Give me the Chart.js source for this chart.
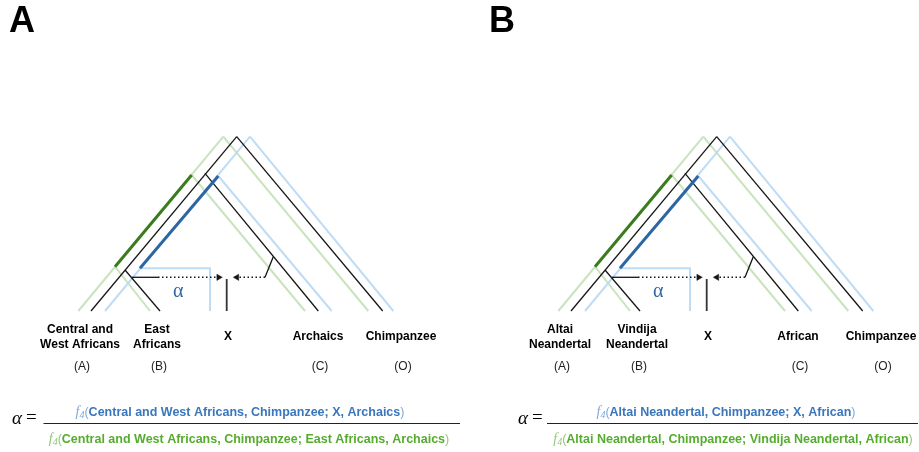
<!DOCTYPE html>
<html>
<head>
<meta charset="utf-8">
<script src="https://cdn.jsdelivr.net/npm/chart.js@4"></script>
<style>
  html, body { margin: 0; padding: 0; background: #ffffff; }
  #wrap { position: relative; width: 919px; height: 452px; }
</style>
</head>
<body>
<div id="wrap"><canvas id="fig"></canvas></div>
<script>
// ---- Panels ----
const panelOffsets = [0, 480];
const panelLetters = ['A', 'B'];

// Population names under each leaf (one entry per leaf, may wrap onto two lines)
const leafNamesA = [['Central and', 'West Africans'], ['East', 'Africans'], ['X'], ['Archaics'], ['Chimpanzee']];
const leafNamesB = [['Altai', 'Neandertal'], ['Vindija', 'Neandertal'], ['X'], ['African'], ['Chimpanzee']];
const leafRoles = ['(A)', '(B)', '', '(C)', '(O)'];
const leafLabelX = [80, 157, 228, 318, 401];

// ---- Tree geometry (panel-local units, y grows downward) ----
// species tree ((A,B),C),O
const blackBranches = [
  [[236.7, 136.7], [91, 311]],      // root -> A
  [[236.7, 136.7], [382.7, 311]],   // root -> O
  [[205, 173.3], [318.3, 311]],     // (A,B,C) ancestor -> C
  [[125, 270], [160, 311]]          // (A,B) ancestor -> B
];
// f4 path for the denominator (with B)
const greenBranches = [
  [[223.3, 136.7], [78.3, 311]],
  [[223.3, 136.7], [368.3, 311]],
  [[191.7, 175], [305, 311]],
  [[115, 266.7], [150, 311]]
];
const greenShared = [[115, 266.7], [191.7, 175]];
// f4 path for the numerator (with X)
const blueBranches = [
  [[250, 136.7], [105, 311]],
  [[250, 136.7], [393.3, 311]],
  [[218.3, 176], [331.7, 311]],
  [[140, 268.3], [210, 268.3], [210, 311]]
];
const blueShared = [[140, 268.3], [218.3, 176]];
// admixed lineage X and the two gene-flow arrows into it
const xLineage = [[226.7, 279], [226.7, 311]];
const flowFromB = { stem: [[131.7, 277.3], [158, 277.3]], tip: [222.3, 277.3], dir: 1 };
const flowFromC = { stem: [[273.3, 256.7], [265, 277.3]], tip: [233.3, 277.3], dir: -1 };

// ---- Ratio formula ----
const numeratorA = 'Central and West Africans, Chimpanzee; X, Archaics';
const denominatorA = 'Central and West Africans, Chimpanzee; East Africans, Archaics';
const numeratorB = 'Altai Neandertal, Chimpanzee; X, African';
const denominatorB = 'Altai Neandertal, Chimpanzee; Vindija Neandertal, African';
const formulaLayout = [
  { alphaX: 12, barL: 43.5, barR: 460, numC: 240, denC: 249 },
  { alphaX: 518, barL: 547, barR: 918, numC: 726, denC: 733 }
];

const COL = {
  black: '#161616',
  lightGreen: '#c9e4bd',
  lightBlue: '#bfdcf5',
  darkGreen: '#3b7b1f',
  darkBlue: '#2d66a3',
  textBlue: '#3a77bd',
  textBlueLight: '#7fa8da',
  textGreen: '#56ac2f',
  textGreenLight: '#92c777'
};

const SANS = '"Liberation Sans", Arial, Helvetica, sans-serif';
const SERIF = '"Liberation Serif", "Times New Roman", serif';

function shift(pts, dx) { return pts.map(p => ({ x: p[0] + dx, y: p[1] })); }

function lineSet(pts, dx, color, width, dash) {
  return {
    type: 'scatter', data: shift(pts, dx), showLine: true,
    borderColor: color, borderWidth: width, borderDash: dash || [],
    pointRadius: 0, pointHoverRadius: 0, fill: false, tension: 0,
    borderCapStyle: 'butt', borderJoinStyle: 'miter', clip: false
  };
}

const datasets = [];
const ARROW_R = 3.6;
panelOffsets.forEach(dx => {
  greenBranches.forEach(b => datasets.push(lineSet(b, dx, COL.lightGreen, 2)));
  blueBranches.forEach(b => datasets.push(lineSet(b, dx, COL.lightBlue, 2)));
  blackBranches.forEach(b => datasets.push(lineSet(b, dx, COL.black, 1.3)));
  datasets.push(lineSet(greenShared, dx, COL.darkGreen, 3));
  datasets.push(lineSet(blueShared, dx, COL.darkBlue, 3));
  datasets.push(lineSet(xLineage, dx, '#333333', 1.8));
  [flowFromB, flowFromC].forEach(f => {
    const stemEnd = f.stem[f.stem.length - 1];
    datasets.push(lineSet(f.stem, dx, COL.black, 1.3));
    const arrowBase = f.tip[0] - f.dir * ARROW_R * 1.5;
    datasets.push(lineSet([stemEnd, [arrowBase, f.tip[1]]], dx, COL.black, 1.5, [1.5, 2.5]));
    datasets.push({
      type: 'scatter',
      data: [{ x: f.tip[0] - f.dir * ARROW_R + dx, y: f.tip[1] }],
      pointStyle: 'triangle', rotation: f.dir > 0 ? 90 : 270,
      pointRadius: ARROW_R, pointHoverRadius: ARROW_R,
      backgroundColor: COL.black, borderColor: COL.black, borderWidth: 0.5, clip: false
    });
  });
});
// later entries are painted over earlier ones
datasets.forEach((d, i) => { d.order = datasets.length - i; });

// Text drawn on top of the diagram
const textPlugin = {
  id: 'figureText',
  afterDatasetsDraw(chart) {
    const ctx = chart.ctx;
    const sx = chart.scales.x, sy = chart.scales.y;
    const X = v => sx.getPixelForValue(v), Y = v => sy.getPixelForValue(v);
    ctx.save();

    panelOffsets.forEach((dx, p) => {
      // panel letter
      ctx.fillStyle = '#000';
      ctx.font = 'bold 36px ' + SANS;
      ctx.textAlign = 'left';
      ctx.textBaseline = 'alphabetic';
      ctx.fillText(panelLetters[p], X(9 + dx), Y(31.5));

      // leaf names and role tags
      const names = p === 0 ? leafNamesA : leafNamesB;
      ctx.textAlign = 'center';
      ctx.textBaseline = 'middle';
      names.forEach((lines, i) => {
        ctx.font = 'bold 12px ' + SANS;
        ctx.fillStyle = '#000';
        if (lines.length === 2) {
          ctx.fillText(lines[0], X(leafLabelX[i] + dx), Y(329.5));
          ctx.fillText(lines[1], X(leafLabelX[i] + dx), Y(345));
        } else {
          ctx.fillText(lines[0], X(leafLabelX[i] + dx), Y(337));
        }
        if (leafRoles[i]) {
          ctx.font = '12px ' + SANS;
          ctx.fillStyle = '#222';
          ctx.fillText(leafRoles[i], X(leafLabelX[i] + 2 + dx), Y(367));
        }
      });

      // alpha marker inside the tree
      ctx.font = '20px ' + SERIF;
      ctx.fillStyle = COL.darkBlue;
      ctx.fillText('\u03b1', X(178.3 + dx), Y(292));

      // ratio formula
      const L = formulaLayout[p];
      ctx.fillStyle = '#000';
      ctx.font = 'italic 19px ' + SERIF;
      ctx.textAlign = 'left';
      ctx.textBaseline = 'middle';
      ctx.fillText('\u03b1', X(L.alphaX), Y(419));
      ctx.font = '19px ' + SERIF;
      ctx.fillText('=', X(L.alphaX + 14), Y(418.5));

      ctx.strokeStyle = '#222';
      ctx.lineWidth = 1;
      ctx.beginPath();
      ctx.moveTo(X(L.barL), Y(423.5));
      ctx.lineTo(X(L.barR), Y(423.5));
      ctx.stroke();

      drawF4(ctx, p === 0 ? numeratorA : numeratorB, X(L.numC), Y(412.5), COL.textBlue, COL.textBlueLight);
      drawF4(ctx, p === 0 ? denominatorA : denominatorB, X(L.denC), Y(439.5), COL.textGreen, COL.textGreenLight);
    });
    ctx.restore();
  }
};

function drawF4(ctx, body, cx, cy, strong, light) {
  const parts = [
    { t: 'f', font: 'italic 14px ' + SERIF, color: light, dy: 0 },
    { t: '4', font: 'italic 10px ' + SERIF, color: light, dy: 3 },
    { t: '(', font: '12.5px ' + SANS, color: light, dy: 0 },
    { t: body, font: 'bold 12.5px ' + SANS, color: strong, dy: 0 },
    { t: ')', font: '12.5px ' + SANS, color: light, dy: 0 }
  ];
  let total = 0;
  parts.forEach(pt => { ctx.font = pt.font; pt.w = ctx.measureText(pt.t).width; total += pt.w; });
  let x = cx - total / 2;
  ctx.textAlign = 'left';
  ctx.textBaseline = 'middle';
  parts.forEach(pt => {
    ctx.font = pt.font;
    ctx.fillStyle = pt.color;
    ctx.fillText(pt.t, x, cy + pt.dy);
    x += pt.w;
  });
}

new Chart(document.getElementById('fig'), {
  type: 'scatter',
  data: { datasets },
  options: {
    responsive: true,
    maintainAspectRatio: false,
    animation: false,
    events: [],
    layout: { padding: 0, autoPadding: false },
    plugins: { legend: { display: false }, tooltip: { enabled: false }, title: { display: false } },
    scales: {
      x: { type: 'linear', min: 0, max: 919, display: false },
      y: { type: 'linear', min: 0, max: 452, reverse: true, display: false }
    }
  },
  plugins: [textPlugin]
});
</script>
</body>
</html>
